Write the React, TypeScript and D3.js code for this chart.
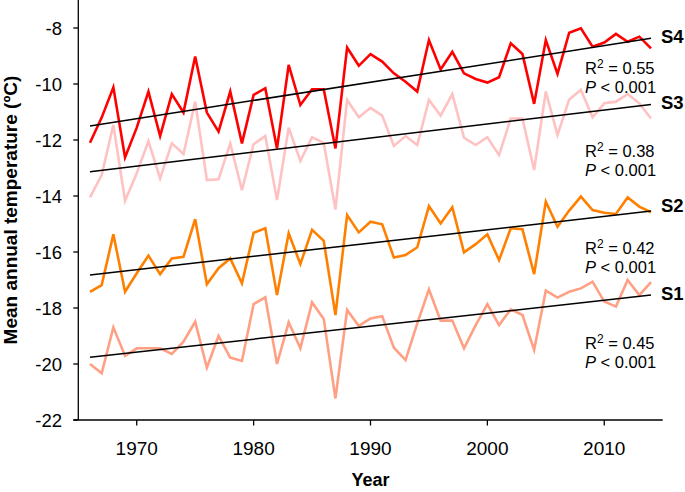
import React from "react";
import * as d3 from "d3";

const years = [1966,1967,1968,1969,1970,1971,1972,1973,1974,1975,1976,1977,1978,1979,1980,1981,1982,1983,1984,1985,1986,1987,1988,1989,1990,1991,1992,1993,1994,1995,1996,1997,1998,1999,2000,2001,2002,2003,2004,2005,2006,2007,2008,2009,2010,2011,2012,2013,2014];

const s4 = [-12.10,-11.2,-10.12,-12.62,-11.56,-10.27,-11.86,-10.36,-11.02,-9.02,-11.02,-11.70,-10.27,-12.12,-10.39,-10.15,-12.30,-9.32,-10.75,-10.19,-10.19,-12.30,-8.70,-9.35,-8.93,-9.20,-9.62,-9.92,-10.27,-8.43,-9.48,-8.85,-9.62,-9.82,-9.95,-9.76,-8.55,-8.93,-10.71,-8.43,-9.64,-8.17,-8.01,-8.67,-8.52,-8.21,-8.49,-8.31,-8.73];
const s3 = [-14.05,-13.25,-11.46,-14.17,-13.19,-12.04,-13.37,-12.12,-12.50,-10.63,-13.43,-13.40,-12.12,-13.79,-12.15,-11.86,-14.14,-11.56,-12.75,-11.90,-12.10,-14.48,-10.57,-11.19,-10.85,-11.13,-12.21,-11.86,-12.18,-10.57,-11.13,-10.36,-11.92,-12.18,-11.90,-12.54,-11.23,-11.23,-13.07,-10.27,-11.82,-10.55,-10.21,-11.19,-10.69,-10.63,-10.36,-10.69,-11.23];
const s2 = [-17.42,-17.18,-15.37,-17.42,-16.76,-16.13,-16.79,-16.23,-16.17,-14.83,-17.15,-16.58,-16.23,-17.12,-15.31,-15.15,-17.54,-15.33,-16.43,-15.21,-15.60,-18.25,-14.68,-15.30,-14.92,-15.01,-16.20,-16.11,-15.83,-14.36,-14.98,-14.40,-16.01,-15.72,-15.37,-16.29,-15.15,-15.19,-16.79,-14.20,-15.10,-14.52,-14.02,-14.50,-14.60,-14.64,-14.05,-14.38,-14.58];
const s1 = [-20.00,-20.33,-18.69,-19.71,-19.44,-19.44,-19.44,-19.64,-19.20,-18.49,-20.13,-19.00,-19.77,-19.89,-17.86,-17.62,-20.00,-18.51,-19.44,-17.80,-18.39,-21.23,-18.07,-18.64,-18.37,-18.29,-19.42,-19.86,-18.55,-17.33,-18.45,-18.45,-19.44,-18.61,-17.86,-18.61,-18.05,-18.25,-19.50,-17.38,-17.63,-17.42,-17.30,-17.06,-17.77,-17.95,-17.00,-17.54,-17.08];

const seriesNames = ["S4", "S3", "S2", "S1"];
const seriesValues = [s4, s3, s2, s1];
const seriesColors = ["#ff0000", "#ffc2c2", "#ff8000", "#ffa084"];
const trendStart = [-11.5, -13.13, -16.82, -19.76];
const trendEnd = [-8.37, -10.73, -14.54, -17.54];
const r2Labels = ["0.55", "0.38", "0.42", "0.45"];
const pLabel = "0.001";

const yTicks = [-22, -20, -18, -16, -14, -12, -10, -8];
const xTicks = [1970, 1980, 1990, 2000, 2010];

const nameY = [36, 102, 205, 293];
const r2Y = [73.5, 156.5, 253.5, 349];

export default function App() {
  const W = 685, H = 492;
  const x = d3.scaleLinear().domain([1965, 2015]).range([78.3, 662.7]);
  const y = d3.scaleLinear().domain([-22, -7]).range([420, 0]);
  const font = "'Liberation Sans', Arial, Helvetica, sans-serif";
  const line = d3.line<number>().x((_, i) => x(years[i])).y((d) => y(d));

  return (
    <svg width={W} height={H} style={{ position: "absolute", left: 0, top: 0, background: "#fff" }} fontFamily={font}>
      <rect width={W} height={H} fill="#fff" />
      {seriesValues.map((vals, i) => (
        <path key={"s" + i} d={line(vals) || ""} fill="none" stroke={seriesColors[i]} strokeWidth={2.6} strokeLinejoin="miter" />
      ))}
      {seriesValues.map((_, i) => (
        <line key={"t" + i} x1={x(years[0])} x2={x(years[years.length - 1])} y1={y(trendStart[i])} y2={y(trendEnd[i])} stroke="#000" strokeWidth={1.5} />
      ))}
      {/* axes */}
      <line x1={x(1965)} x2={x(1965)} y1={0} y2={y(-22)} stroke="#000" strokeWidth={1.3} />
      <line x1={x(1965) - 5} x2={x(2015)} y1={y(-22)} y2={y(-22)} stroke="#000" strokeWidth={1.3} />
      {yTicks.map((t) => (
        <g key={"yt" + t}>
          <line x1={x(1965) - 5} x2={x(1965)} y1={y(t)} y2={y(t)} stroke="#000" strokeWidth={1.3} />
          <text x={62} y={y(t)} dy="0.36em" textAnchor="end" fontSize={18.5} fill="#000">{String(t)}</text>
        </g>
      ))}
      {xTicks.map((t) => (
        <g key={"xt" + t}>
          <line x1={x(t)} x2={x(t)} y1={y(-22)} y2={y(-22) + 5.5} stroke="#000" strokeWidth={1.3} />
          <text x={x(t)} y={455} textAnchor="middle" fontSize={19} fill="#000">{String(t)}</text>
        </g>
      ))}
      <text x={370.5} y={486} textAnchor="middle" fontSize={18} fontWeight="bold" fill="#000">Year</text>
      <text transform="translate(16.5,210) rotate(-90)" textAnchor="middle" fontSize={19} fontWeight="bold" fill="#000">Mean annual temperature (ºC)</text>
      {seriesNames.map((n, i) => (
        <g key={"n" + i}>
          <text x={661} y={nameY[i]} dy="0.36em" fontSize={18.5} fontWeight="bold" fill="#000">{n}</text>
          <text x={585} y={r2Y[i]} fontSize={16.5} fill="#000">
            R<tspan dy={-6} fontSize={12}>2</tspan><tspan dy={6}> = {r2Labels[i]}</tspan>
          </text>
          <text x={585} y={r2Y[i] + 19} fontSize={16.5} fill="#000">
            <tspan fontStyle="italic">P</tspan> &lt; {pLabel}
          </text>
        </g>
      ))}
    </svg>
  );
}
